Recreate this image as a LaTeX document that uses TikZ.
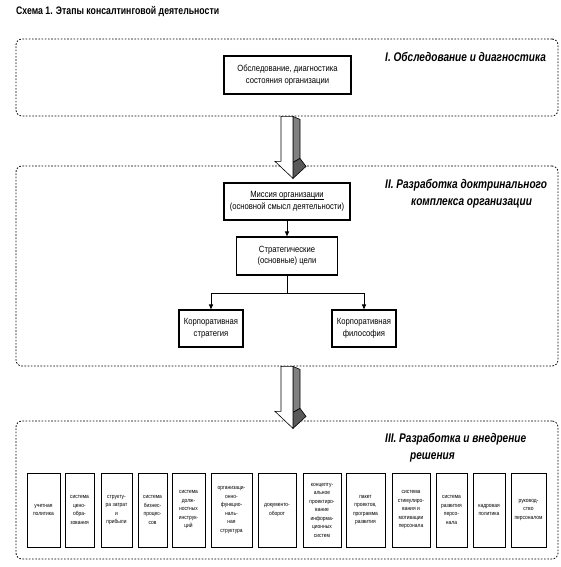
\documentclass[tikz,border=0pt]{standalone}
\usepackage{fontspec}
\setmainfont{Liberation Sans}
\newfontfamily\nar[FakeStretch=0.85]{Liberation Sans}
\newfontfamily\narr[FakeStretch=0.8]{Liberation Sans}
\newsavebox\ulbox
\newcommand\myul[1]{\sbox\ulbox{#1}\rlap{\rule[-1.8pt]{\wd\ulbox}{0.8pt}}\usebox\ulbox}
\usetikzlibrary{arrows.meta}
\begin{document}
\begin{tikzpicture}[x=1pt,y=-1pt,
  box/.style={draw, line width=1.1pt, fill=white, inner sep=0pt, align=center,
    font=\nar\fontsize{9}{11.5}\selectfont},
  small/.style={draw, line width=1pt, inner sep=0pt, align=center, minimum height=74pt,
    font=\nar\fontsize{5.8}{8.5}\selectfont},
  stage/.style={draw, line width=0.8pt, dash pattern=on 1.6pt off 1.6pt, rounded corners=6pt,
    minimum width=542pt, inner sep=0pt},
  stitle/.style={anchor=west, align=left, inner sep=0pt,
    font=\narr\bfseries\itshape\fontsize{12.6}{17}\selectfont},
  arr/.style={-{Triangle[length=5pt,width=4pt]}, line width=0.9pt},
  blockarrow/.pic={
    \filldraw[fill=gray, line width=0.6pt] (12,0) -- (19,3) -- (19,42) -- (12,46) -- cycle;
    \filldraw[fill=black!65, line width=0.6pt] (12,46) -- (19,42) -- (25,50) -- (12,62) -- cycle;
    \filldraw[fill=white, line width=0.6pt] (0,0) -- (12,0) -- (12,62) -- (-6,45) -- (0,45) -- cycle;
  }]
\useasboundingbox (0,0) rectangle (561,567);

\node[anchor=west, inner sep=0pt, font=\narr\bfseries\fontsize{10.9}{12}\selectfont] (ttl) at (16,12)
  {Схема 1. Этапы консалтинговой деятельности};

% stage frames
\node[stage, minimum height=77pt] (s1) at (287,77.5) {};
\node[stage, minimum height=200pt] (s2) at (287,266) {};
\node[stage, minimum height=138pt] (s3) at (287,490) {};

% block arrows
\path (s1.south) ++(-6,0) pic {blockarrow};
\path (s2.south) ++(-6,0) pic {blockarrow};

% stage titles
\node[stitle] (t1) at (385,57) {I. Обследование и диагностика};
\node[stitle] (t2) at (385,193.5) {II. Разработка доктринального\\\hspace*{26pt}комплекса организации};
\node[stitle] (t3) at (385,447.5) {III. Разработка и внедрение\\\hspace*{25pt}решения};

% stage I
\node[box, minimum width=127pt, minimum height=38pt] (obs) at (287.5,75)
  {Обследование, диагностика\\состояния организации};

% stage II
\node[box, minimum width=126pt, minimum height=37pt] (mis) at (287,201.5)
  {\myul{Миссия организации}\\(основной смысл деятельности)};
\node[box, minimum width=101pt, minimum height=38pt] (str) at (287,256)
  {Стратегические\\(основные) цели};
\node[box, minimum width=64pt, minimum height=37pt] (cs) at (211,328.5)
  {Корпоративная\\стратегия};
\node[box, minimum width=64pt, minimum height=37pt] (cp) at (364,328.5)
  {Корпоративная\\философия};

\draw[arr] (mis) -- (str);
\coordinate (jy) at (0,293);
\draw[line width=0.9pt] (str.south) -- (str.south |- jy) coordinate (j);
\draw[arr] (j) -| (cs);
\draw[arr] (j) -| (cp);

% stage III boxes
\node[small, minimum width=33pt] (b1) at (43.5,510) {учетная\\политика};
\node[small, minimum width=29pt] (b2) at (79.5,510) {система\\цено-\\обра-\\зования};
\node[small, minimum width=31pt] (b3) at (116.5,510) {структу-\\ра затрат\\и\\прибыли};
\node[small, minimum width=29pt] (b4) at (152.5,510) {система\\бизнес-\\процес-\\сов};
\node[small, minimum width=33pt] (b5) at (188.5,510) {система\\долж-\\ностных\\инструк-\\ций};
\node[small, minimum width=41pt] (b6) at (231.5,510) {организаци-\\онно-\\функцио-\\наль-\\ная\\структура};
\node[small, minimum width=38pt] (b7) at (277,510) {документо-\\оборот};
\node[small, minimum width=38pt] (b8) at (322,510) {концепту-\\альное\\проектиро-\\вание\\информа-\\ционных\\систем};
\node[small, minimum width=39pt] (b9) at (365.5,510) {пакет\\проектов,\\программа\\развития};
\node[small, minimum width=38pt] (b10) at (411,510) {система\\стимулиро-\\вания и\\мотивации\\персонала};
\node[small, minimum width=31pt] (b11) at (451.5,510) {система\\развития\\персо-\\нала};
\node[small, minimum width=32pt] (b12) at (489,510) {кадровая\\политика};
\node[small, minimum width=35pt] (b13) at (528.5,510) {руковод-\\ство\\персоналом};
\end{tikzpicture}
\end{document}
